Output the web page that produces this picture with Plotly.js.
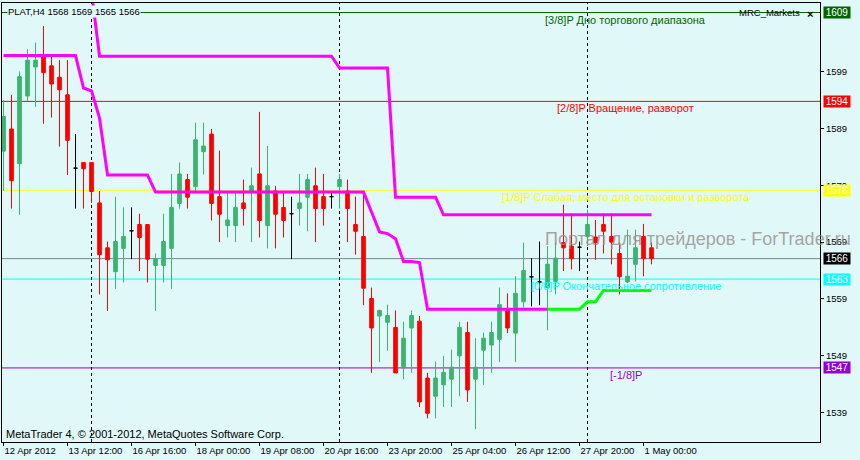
<!DOCTYPE html>
<html>
<head>
<meta charset="utf-8">
<script src="https://cdn.plot.ly/plotly-3.0.1.min.js"></script>
<style>
  html, body { margin: 0; padding: 0; background: #E1F8F8; }
  #chart { width: 860px; height: 460px; }
</style>
</head>
<body>
<div id="chart"></div>
<script>
// ---- Data ----
const symbol = "PLAT,H4";
const open  = [1585.0,1588.9,1582.8,1594.7,1599.8,1601.9,1600.0,1598.0,1594.9,1582.0,
               1583.0,1583.0,1575.9,1568.0,1563.8,1567.9,1571.0,1572.1,1572.1,1564.9,
               1564.9,1567.9,1575.8,1580.0,1578.8,1584.9,1588.0,1577.0,1571.9,1571.9,
               1575.9,1577.9,1581.0,1571.9,1578.0,1575.1,1574.0,1574.9,1576.9,1578.9,
               1577.0,1577.0,1578.8,1578.0,1572.1,1570.0,1559.1,1556.0,1554.9,1554.0,
               1546.9,1553.9,1555.1,1545.1,1541.9,1543.9,1544.9,1549.0,1553.1,1544.9,
               1550.0,1550.9,1551.9,1557.0,1553.0,1558.5,1562.9,1562.0,1561.0,1562.1,
               1568.9,1568.3,1568.1,1570.0,1569.9,1572.1,1570.0,1567.0,1562.0,1565.1,
               1570.0,1568.0];
const high  = [1594.0,1594.9,1599.0,1602.9,1604.1,1607.0,1601.9,1601.0,1601.0,1588.0,
               1583.0,1583.0,1578.0,1569.1,1577.0,1575.1,1575.1,1574.0,1572.1,1567.0,
               1574.0,1581.0,1583.0,1581.0,1590.0,1590.0,1588.9,1585.1,1578.0,1578.0,
               1580.0,1582.1,1591.9,1585.9,1578.9,1578.0,1577.0,1581.0,1581.0,1582.1,
               1581.0,1578.0,1581.0,1580.0,1577.0,1577.9,1561.0,1557.0,1558.0,1557.0,
               1555.0,1557.0,1556.0,1546.0,1548.0,1549.0,1550.1,1555.0,1555.0,1552.1,
               1553.1,1555.0,1561.0,1560.0,1563.0,1568.9,1566.2,1569.1,1568.3,1568.9,
               1575.6,1574.1,1569.1,1574.7,1572.9,1574.1,1574.1,1568.9,1571.2,1571.2,
               1572.2,1568.9];
const low   = [1578.0,1574.9,1573.8,1593.8,1592.8,1589.8,1590.9,1585.8,1580.8,1574.9,
               1574.9,1575.9,1559.8,1556.9,1560.8,1561.9,1566.0,1563.9,1561.9,1556.9,
               1561.9,1560.8,1574.9,1574.9,1577.9,1580.9,1572.8,1569.0,1569.8,1569.0,
               1571.9,1569.0,1569.8,1567.9,1567.9,1569.8,1566.0,1571.9,1570.9,1569.0,
               1571.9,1574.9,1574.9,1569.0,1566.8,1557.9,1546.0,1547.9,1549.9,1546.0,
               1544.9,1546.0,1540.0,1538.0,1538.0,1540.0,1540.0,1541.9,1540.9,1536.1,
               1543.9,1546.0,1547.9,1553.0,1547.9,1557.5,1557.7,1557.9,1553.5,1559.8,
               1563.9,1564.2,1563.9,1568.3,1565.9,1567.0,1565.1,1559.8,1561.8,1562.1,
               1563.0,1565.1];
const close = [1591.1,1579.8,1598.1,1601.0,1601.0,1598.8,1596.8,1595.8,1586.9,1582.0,
               1581.9,1577.9,1566.8,1565.9,1569.1,1570.0,1571.0,1569.8,1566.0,1566.1,
               1569.1,1575.1,1581.0,1576.9,1587.0,1585.9,1575.8,1573.9,1572.9,1575.1,
               1574.9,1578.9,1572.8,1578.9,1573.9,1572.8,1574.0,1575.9,1580.0,1574.9,
               1574.9,1577.0,1580.0,1574.9,1570.9,1560.9,1553.9,1557.0,1556.1,1546.0,
               1552.1,1556.1,1540.9,1538.9,1545.1,1546.1,1547.0,1554.0,1543.0,1547.0,
               1552.1,1553.1,1558.0,1553.9,1560.0,1564.0,1562.9,1562.0,1565.1,1566.2,
               1568.0,1566.1,1568.1,1572.1,1568.9,1570.9,1569.0,1562.9,1563.0,1568.0,
               1566.1,1566.1];

// MRC indicator lines (one value per bar, null = not drawn)
const mrcUpper = [null,null,null,null,null,null,null,null,null,null,
                  null,1613.0,1601.7,1601.7,1601.7,1601.7,1601.7,1601.7,1601.7,1601.7,
                  1601.7,1601.7,1601.7,1601.7,1601.7,1601.7,1601.7,1601.7,1601.7,1601.7,
                  1601.7,1601.7,1601.7,1601.7,1601.7,1601.7,1601.7,1601.7,1601.7,1601.7,
                  1601.7,1601.7,1599.6,1599.6,1599.6,1599.6,1599.6,1599.6,1599.6,1576.9,
                  1576.9,1576.9,1576.9,1576.9,1576.9,1573.8,1573.8,1573.8,1573.8,1573.8,
                  1573.8,1573.8,1573.8,1573.8,1573.8,1573.8,1573.8,1573.8,1573.8,1573.8,
                  1573.8,1573.8,1573.8,1573.8,1573.8,1573.8,1573.8,1573.8,1573.8,1573.8,
                  1573.8,1573.8];
const mrcLower = [1601.8,1601.8,1601.8,1601.8,1601.8,1601.8,1601.8,1601.8,1601.8,1601.8,
                  1596.1,1595.6,1590.8,1580.8,1580.8,1580.8,1580.8,1580.8,1580.8,1577.8,
                  1577.8,1577.8,1577.8,1577.8,1577.8,1577.8,1577.8,1577.8,1577.8,1577.8,
                  1577.8,1577.8,1577.8,1577.8,1577.8,1577.8,1577.8,1577.8,1577.8,1577.8,
                  1577.8,1577.8,1577.8,1577.8,1577.8,1577.8,1574.3,1570.8,1570.5,1569.6,
                  1565.6,1565.6,1565.4,1557.2,1557.2,1557.2,1557.2,1557.2,1557.2,1557.2,
                  1557.2,1557.2,1557.2,1557.2,1557.2,1557.2,1557.2,1557.2,1557.2,1557.2,
                  1557.2,1557.2,1557.2,1558.5,1558.5,1560.5,1560.5,1560.5,1560.5,1560.5,
                  1560.5,1560.5];
const lowerGreenFrom = 68;

// Murrey levels
const levelValues = [1609.375, 1593.75, 1578.125, 1562.5, 1546.875];
const levelNames  = ["[3/8]P Дно торгового диапазона",
                     "[2/8]P Вращение, разворот",
                     "[1/8]P Слабая, место для остановки и разворота",
                     "[0/8]P Окончательное сопротивление",
                     "[-1/8]P"];
const levelColors = ["#006400", "#FF0000", "#FFFF00", "#00FFFF", "#9400D3"];

// Period separators (bar index)
const separators = [11, 42, 73];

// Time axis
const tickBars   = [0, 8, 16, 24, 32, 40, 48, 56, 64, 72, 80];
const tickLabels = ["12 Apr 2012", "13 Apr 12:00", "16 Apr 16:00", "18 Apr 00:00",
                    "19 Apr 08:00", "20 Apr 16:00", "23 Apr 20:00", "25 Apr 04:00",
                    "26 Apr 12:00", "27 Apr 20:00", "1 May 00:00"];
const priceTicks = [1539, 1549, 1559, 1569, 1579, 1589, 1599];

// ---- Build ----
const BG = "#E1F8F8";
const FONT = "Liberation Sans, Arial, sans-serif";
const bars = open.map((_, i) => i);
const isDoji = bars.map(i => Math.abs(open[i] - close[i]) < 0.05);
const nIdx = bars.filter(i => !isDoji[i]);
const dIdx = bars.filter(i => isDoji[i]);
const pick = (arr, idx) => idx.map(i => arr[i]);

const traces = [
  {
    type: "candlestick",
    x: nIdx, open: pick(open, nIdx), high: pick(high, nIdx), low: pick(low, nIdx), close: pick(close, nIdx),
    increasing: { line: { color: "#3CB371", width: 1 }, fillcolor: "#3CB371" },
    decreasing: { line: { color: "#FF0000", width: 1 }, fillcolor: "#FF0000" },
    whiskerwidth: 0, hoverinfo: "skip", showlegend: false
  },
  {
    type: "candlestick",
    x: dIdx, open: pick(open, dIdx), high: pick(high, dIdx), low: pick(low, dIdx), close: pick(close, dIdx),
    increasing: { line: { color: "#000000", width: 1 }, fillcolor: "#000000" },
    decreasing: { line: { color: "#000000", width: 1 }, fillcolor: "#000000" },
    whiskerwidth: 0, hoverinfo: "skip", showlegend: false
  },
  {
    type: "scatter", mode: "lines", x: bars, y: mrcUpper,
    line: { color: "#FF00FF", width: 3 }, hoverinfo: "skip", showlegend: false
  },
  {
    type: "scatter", mode: "lines",
    x: bars.slice(0, lowerGreenFrom + 1), y: mrcLower.slice(0, lowerGreenFrom + 1),
    line: { color: "#FF00FF", width: 3 }, hoverinfo: "skip", showlegend: false
  },
  {
    type: "scatter", mode: "lines",
    x: bars.slice(lowerGreenFrom), y: mrcLower.slice(lowerGreenFrom),
    line: { color: "#00FF00", width: 3 }, hoverinfo: "skip", showlegend: false
  }
];

const last = close.length - 1;
const shapes = [];
levelValues.forEach((v, k) => {
  shapes.push({ type: "line", xref: "paper", x0: 0, x1: 1, yref: "y", y0: v, y1: v,
                line: { color: levelColors[k], width: 1 }, layer: "below" });
});
shapes.push({ type: "line", xref: "paper", x0: 0, x1: 1, yref: "y", y0: close[last], y1: close[last],
              line: { color: "#778899", width: 1 }, layer: "below" });
separators.forEach(b => {
  shapes.push({ type: "line", xref: "x", x0: b, x1: b, yref: "paper", y0: 0, y1: 1,
                line: { color: "#000000", width: 1, dash: "3px,3px" }, layer: "below" });
});

const annotations = [];
// level captions
levelValues.forEach((v, k) => {
  annotations.push({ xref: "x", x: 77.8, yref: "y", y: v, xanchor: "center", yanchor: "top",
                     text: levelNames[k], showarrow: false, borderpad: 0,
                     font: { family: FONT, size: 11, color: levelColors[k] } });
});
// right price boxes
const boxVals = levelValues.concat([close[last]]);
const boxCols = levelColors.concat(["#000000"]);
boxVals.forEach((v, k) => {
  annotations.push({ xref: "paper", x: 1, xanchor: "left", xshift: 3, yref: "y", y: v, yanchor: "middle",
                     text: String(Math.round(v)), showarrow: false, bgcolor: boxCols[k],
                     width: 26, height: 11, borderpad: 0, align: "center",
                     font: { family: FONT, size: 10, color: "#FFFFFF" } });
});
// header
annotations.push({ xref: "paper", x: 0, xanchor: "left", xshift: 5, yref: "paper", y: 1, yanchor: "top", yshift: -2,
                   text: symbol + " " + [open[last], high[last], low[last], close[last]].map(Math.round).join(" "),
                   showarrow: false, bgcolor: BG, borderpad: 0,
                   font: { family: FONT, size: 9.5, color: "#000000" } });
annotations.push({ xref: "paper", x: 1, xanchor: "right", xshift: -19, yref: "paper", y: 1, yanchor: "top", yshift: -3,
                   text: "MRC_Markets", showarrow: false, borderpad: 0,
                   font: { family: FONT, size: 9.5, color: "#000000" } });
annotations.push({ xref: "paper", x: 1, xanchor: "right", xshift: -6, yref: "paper", y: 1, yanchor: "top", yshift: -4,
                   text: "<b>×</b>", showarrow: false, borderpad: 0,
                   font: { family: FONT, size: 11, color: "#000000" } });
// watermark
annotations.push({ xref: "paper", x: 1.0403, xanchor: "right", yref: "paper", y: 0.462, yanchor: "middle",
                   text: "Портал для трейдеров - ForTrader.ru", showarrow: false,
                   font: { family: FONT, size: 18, color: "rgba(150,140,140,0.8)" } });
// copyright
annotations.push({ xref: "paper", x: 0, xanchor: "left", xshift: 3, yref: "paper", y: 0, yanchor: "bottom", yshift: 1,
                   text: "MetaTrader 4, © 2001-2012, MetaQuotes Software Corp.", showarrow: false, borderpad: 0,
                   font: { family: FONT, size: 11, color: "#000000" } });

const layout = {
  width: 860, height: 460,
  paper_bgcolor: BG, plot_bgcolor: BG,
  margin: { l: 2, r: 40, t: 3, b: 18, pad: 0 },
  showlegend: false,
  hovermode: false,
  boxgap: 0.35,
  font: { family: FONT, size: 11, color: "#000000" },
  xaxis: {
    range: [-0.19, 102.06], fixedrange: true,
    rangeslider: { visible: false },
    showgrid: false, zeroline: false,
    showline: true, mirror: true, linecolor: "#000000", linewidth: 1,
    ticks: "outside", ticklen: 3, tickcolor: "#000000", tickwidth: 1,
    tickvals: tickBars, ticktext: tickLabels, ticklabelposition: "outside right",
    tickangle: 0, automargin: false,
    tickfont: { family: FONT, size: 9.5, color: "#000000" }
  },
  yaxis: {
    side: "right",
    range: [1533.85, 1611.05], fixedrange: true,
    showgrid: false, zeroline: false,
    showline: true, mirror: true, linecolor: "#000000", linewidth: 1,
    ticks: "outside", ticklen: 3, tickcolor: "#000000", tickwidth: 1,
    tickvals: priceTicks, ticktext: priceTicks.map(String),
    automargin: false,
    tickfont: { family: FONT, size: 9.5, color: "#000000" }
  },
  shapes: shapes,
  annotations: annotations
};

Plotly.newPlot("chart", traces, layout, { staticPlot: true, displayModeBar: false });
</script>
</body>
</html>
